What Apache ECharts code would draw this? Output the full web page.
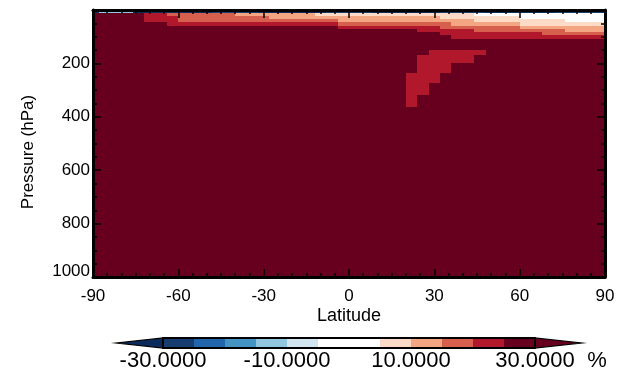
<!DOCTYPE html>
<html><head><meta charset="utf-8">
<script src="https://cdn.jsdelivr.net/npm/echarts@6/dist/echarts.min.js"></script>
<style>html,body{margin:0;padding:0;background:#fff}#c{width:631px;height:379px}</style>
</head><body><div id="c"></div>
<script>
// ---- data ----
const latCenters = [-90,-86,-82,-78,-74,-70,-66,-62,-58,-54,-50,-46,-42,-38,-34,-30,-26,-22,-18,-14,-10,-6,-2,2,6,10,14,18,22,26,30,34,38,42,46,50,54,58,62,66,70,74,78,82,86,90];
const pressureEdges = [0,12,21,33,46,59,70,83,95,108,128,150,169,199,236,273,318,363,420,480,550,620,700,780,860,930,1000];
const latTicks = [-90,-60,-30,0,30,60,90];
const pressureTicks = [200,400,600,800,1000];
const colorLevels = [-30,-25,-20,-15,-10,-5,5,10,15,20,25,30];
const colorbarLabels = [-30,-10,10,30];
// values[row][col], row = pressure layer (top to bottom), col = latitude
const values = [
[-35,-12,-12,-12,-35,-35,-35,-35,-35,-35, -35,-27,-27,-27,-27,-35,-35,-35,-35,-35, -35,-27,-27,-27,-27,-35,-35,-35,-35,-35, -35,-27,-27,-27,-27,-35,-35,-35,-35,-35, -35,-27,-27,-27,-27,-27],
[35,35,35,35,35,22,22,17,17,17, 17,17,17,12,12,12,12,12,12,12, 7,7,7,7,7,7,7,7,7,7, 7,7,7,7,0,0,0,0,0,0, 0,0,0,0,0,0],
[35,35,35,35,35,22,22,22,17,17, 17,17,17,17,17,17,12,12,12,12, 12,12,12,12,12,12,12,12,12,12, 12,7,7,7,7,7,7,7,0,0, 0,0,0,0,0,0],
[35,35,35,35,35,22,22,22,17,17, 17,17,17,17,17,17,17,17,17,17, 17,17,12,12,12,12,12,12,12,12, 12,12,12,12,7,7,7,7,7,7, 7,7,0,0,0,0],
[35,35,35,35,35,35,35,22,22,22, 22,22,22,22,22,22,22,22,22,22, 22,22,17,17,17,17,17,17,17,17, 17,17,12,12,12,12,12,12,7,7, 7,7,7,7,7,7],
[35,35,35,35,35,35,35,35,35,35, 35,35,35,35,35,35,35,35,35,35, 35,35,22,22,22,22,22,22,22,22, 22,17,17,17,17,17,17,17,12,12, 12,12,12,12,12,12],
[35,35,35,35,35,35,35,35,35,35, 35,35,35,35,35,35,35,35,35,35, 35,35,35,35,35,35,35,35,35,22, 22,22,22,22,17,17,17,17,17,17, 17,17,12,12,12,12],
[35,35,35,35,35,35,35,35,35,35, 35,35,35,35,35,35,35,35,35,35, 35,35,35,35,35,35,35,35,35,35, 35,22,22,22,22,22,22,22,22,22, 17,17,17,17,17,17],
[35,35,35,35,35,35,35,35,35,35, 35,35,35,35,35,35,35,35,35,35, 35,35,35,35,35,35,35,35,35,35, 35,35,22,22,22,22,22,22,22,22, 22,22,22,22,22,22],
[35,35,35,35,35,35,35,35,35,35, 35,35,35,35,35,35,35,35,35,35, 35,35,35,35,35,35,35,35,35,35, 35,35,35,35,35,35,35,35,35,35, 35,35,35,35,35,35],
[35,35,35,35,35,35,35,35,35,35, 35,35,35,35,35,35,35,35,35,35, 35,35,35,35,35,35,35,35,35,35, 35,35,35,35,35,35,35,35,35,35, 35,35,35,35,35,35],
[35,35,35,35,35,35,35,35,35,35, 35,35,35,35,35,35,35,35,35,35, 35,35,35,35,35,35,35,35,35,35, 22,22,22,22,22,35,35,35,35,35, 35,35,35,35,35,35],
[35,35,35,35,35,35,35,35,35,35, 35,35,35,35,35,35,35,35,35,35, 35,35,35,35,35,35,35,35,35,22, 22,22,22,22,35,35,35,35,35,35, 35,35,35,35,35,35],
[35,35,35,35,35,35,35,35,35,35, 35,35,35,35,35,35,35,35,35,35, 35,35,35,35,35,35,35,35,35,22, 22,22,35,35,35,35,35,35,35,35, 35,35,35,35,35,35],
[35,35,35,35,35,35,35,35,35,35, 35,35,35,35,35,35,35,35,35,35, 35,35,35,35,35,35,35,35,22,22, 22,35,35,35,35,35,35,35,35,35, 35,35,35,35,35,35],
[35,35,35,35,35,35,35,35,35,35, 35,35,35,35,35,35,35,35,35,35, 35,35,35,35,35,35,35,35,22,22, 35,35,35,35,35,35,35,35,35,35, 35,35,35,35,35,35],
[35,35,35,35,35,35,35,35,35,35, 35,35,35,35,35,35,35,35,35,35, 35,35,35,35,35,35,35,35,22,35, 35,35,35,35,35,35,35,35,35,35, 35,35,35,35,35,35],
[35,35,35,35,35,35,35,35,35,35, 35,35,35,35,35,35,35,35,35,35, 35,35,35,35,35,35,35,35,35,35, 35,35,35,35,35,35,35,35,35,35, 35,35,35,35,35,35],
[35,35,35,35,35,35,35,35,35,35, 35,35,35,35,35,35,35,35,35,35, 35,35,35,35,35,35,35,35,35,35, 35,35,35,35,35,35,35,35,35,35, 35,35,35,35,35,35],
[35,35,35,35,35,35,35,35,35,35, 35,35,35,35,35,35,35,35,35,35, 35,35,35,35,35,35,35,35,35,35, 35,35,35,35,35,35,35,35,35,35, 35,35,35,35,35,35],
[35,35,35,35,35,35,35,35,35,35, 35,35,35,35,35,35,35,35,35,35, 35,35,35,35,35,35,35,35,35,35, 35,35,35,35,35,35,35,35,35,35, 35,35,35,35,35,35],
[35,35,35,35,35,35,35,35,35,35, 35,35,35,35,35,35,35,35,35,35, 35,35,35,35,35,35,35,35,35,35, 35,35,35,35,35,35,35,35,35,35, 35,35,35,35,35,35],
[35,35,35,35,35,35,35,35,35,35, 35,35,35,35,35,35,35,35,35,35, 35,35,35,35,35,35,35,35,35,35, 35,35,35,35,35,35,35,35,35,35, 35,35,35,35,35,35],
[35,35,35,35,35,35,35,35,35,35, 35,35,35,35,35,35,35,35,35,35, 35,35,35,35,35,35,35,35,35,35, 35,35,35,35,35,35,35,35,35,35, 35,35,35,35,35,35],
[35,35,35,35,35,35,35,35,35,35, 35,35,35,35,35,35,35,35,35,35, 35,35,35,35,35,35,35,35,35,35, 35,35,35,35,35,35,35,35,35,35, 35,35,35,35,35,35],
[35,35,35,35,35,35,35,35,35,35, 35,35,35,35,35,35,35,35,35,35, 35,35,35,35,35,35,35,35,35,35, 35,35,35,35,35,35,35,35,35,35, 35,35,35,35,35,35]
];

// ---- styles ----
const levelColors = ['#0a2b5c','#163d6f','#2166ac','#4393c3','#92c5de','#d1e5f0','#ffffff','#fddbc7','#f4a582','#d6604d','#b2182b','#67001f','#67001f'];
const FONT = '"Liberation Sans", Arial, Helvetica, sans-serif';

function colorFor(v){
  let k = 0;
  for (const L of colorLevels) if (v >= L) k++;
  return levelColors[k];
}

// cell edges in latitude: midpoints between centers, clipped to the axis range
const latEdges = [];
latEdges.push(Math.max(-90, latCenters[0] - (latCenters[1]-latCenters[0])/2));
for (let i=0;i<latCenters.length-1;i++) latEdges.push((latCenters[i]+latCenters[i+1])/2);
latEdges.push(Math.min(90, latCenters[latCenters.length-1] + (latCenters[1]-latCenters[0])/2));

const heatData = [];
for (let j=0;j<values.length;j++){
  for (let i=0;i<latCenters.length;i++){
    heatData.push([latEdges[i], latEdges[i+1], pressureEdges[j], pressureEdges[j+1], values[j][i]]);
  }
}

const cbData = [];
for (let i=0;i<colorLevels.length-1;i++) cbData.push([colorLevels[i], colorLevels[i+1], 0, i+1]);
cbData.push([colorLevels[0], colorLevels[0], 1, 0]);
cbData.push([colorLevels[colorLevels.length-1], colorLevels[colorLevels.length-1], 2, levelColors.length-1]);
cbData.push([colorLevels[0], colorLevels[colorLevels.length-1], 3, 0]);
const ARROW = 7.5; // arrow length in colorbar units

function snapRect(p1, p2){
  const x0 = Math.round(Math.min(p1[0],p2[0])), x1 = Math.round(Math.max(p1[0],p2[0]));
  const y0 = Math.round(Math.min(p1[1],p2[1])), y1 = Math.round(Math.max(p1[1],p2[1]));
  return {x:x0, y:y0, width:x1-x0, height:y1-y0};
}

const axLine = {show:true, onZero:false, lineStyle:{color:'#000', width:3}};
const axTick = {show:true, inside:true, length:8, lineStyle:{color:'#000', width:1.5}};
const chart = echarts.init(document.getElementById('c'));
chart.setOption({
  animation:false,
  backgroundColor:'#fff',
  grid:[
    {left:93, top:10, width:512, height:267},
    {left:163, top:338, width:372, height:10}
  ],
  xAxis:[
    {gridIndex:0, type:'value', min:latTicks[0], max:latTicks[latTicks.length-1], interval:30, position:'bottom', z:5,
     axisLine:axLine, axisTick:axTick,
     minorTick:{show:true, splitNumber:6, length:4, lineStyle:{color:'#000', width:1.5}},
     splitLine:{show:false}, minorSplitLine:{show:false},
     axisLabel:{color:'#000', fontSize:17, fontFamily:FONT, margin:11}},
    {gridIndex:0, type:'value', min:latTicks[0], max:latTicks[latTicks.length-1], interval:30, position:'top', z:5,
     axisLine:axLine, axisTick:axTick,
     minorTick:{show:true, splitNumber:6, length:4, lineStyle:{color:'#000', width:1.5}},
     splitLine:{show:false}, axisLabel:{show:false}},
    {gridIndex:1, type:'value', min:colorLevels[0], max:colorLevels[colorLevels.length-1], interval:20,
     axisLine:{show:false}, axisTick:{show:false}, splitLine:{show:false},
     axisLabel:{color:'#000', fontSize:22, fontFamily:FONT, margin:2,
       formatter:v => colorbarLabels.indexOf(v) >= 0 ? v.toFixed(4) : ''}}
  ],
  yAxis:[
    {gridIndex:0, type:'value', inverse:true, min:0, max:pressureTicks[pressureTicks.length-1], interval:200, position:'left', z:5,
     axisLine:axLine, axisTick:axTick,
     minorTick:{show:true, splitNumber:4, length:4, lineStyle:{color:'#000', width:1.5}},
     splitLine:{show:false},
     axisLabel:{color:'#000', fontSize:17, fontFamily:FONT, margin:3, showMinLabel:false,
       formatter:v => v === 1000 ? '{up|1000}' : (pressureTicks.indexOf(v)>=0 ? String(v) : ''),
       rich:{up:{color:'#000', fontSize:17, fontFamily:FONT, padding:[0,0,12,0]}}}},
    {gridIndex:0, type:'value', inverse:true, min:0, max:1000, interval:200, position:'right', z:5,
     axisLine:axLine, axisTick:axTick,
     minorTick:{show:true, splitNumber:4, length:4, lineStyle:{color:'#000', width:1.5}},
     splitLine:{show:false}, axisLabel:{show:false}},
    {gridIndex:1, type:'value', min:0, max:1, show:false}
  ],
  series:[
    {type:'custom', xAxisIndex:0, yAxisIndex:0, z:1, clip:true, silent:true,
     encode:{x:[0,1], y:[2,3]},
     data:heatData,
     renderItem:function(params, api){
       const p1 = api.coord([api.value(0), api.value(2)]);
       const p2 = api.coord([api.value(1), api.value(3)]);
       return {type:'rect', shape:snapRect(p1, p2),
         style:{fill:colorFor(api.value(4))}};
     }},
    {type:'custom', xAxisIndex:2, yAxisIndex:2, z:2, clip:false, silent:true,
     encode:{x:[0,1]},
     data:cbData,
     renderItem:function(params, api){
       const kind = api.value(2);
       const a = api.value(0), b = api.value(1);
       const fill = levelColors[api.value(3)];
       if (kind === 0){
         return {type:'rect', shape:snapRect(api.coord([a, 1]), api.coord([b, 0])), style:{fill:fill}};
       }
       if (kind === 1 || kind === 2){
         const tip = kind === 1 ? a - ARROW : a + ARROW;
         const t = api.coord([a, 1]), bt = api.coord([a, 0]), tp = api.coord([tip, 0.5]);
         return {type:'polygon', shape:{points:[t, bt, tp]}, style:{fill:fill, stroke:'#000', lineWidth:1.2}};
       }
       return {type:'rect', shape:snapRect(api.coord([a, 1]), api.coord([b, 0])), style:{fill:'none', stroke:'#000', lineWidth:2}};
     }}
  ],
  graphic:[
    {type:'text', x:349, y:316, z:10, style:{text:'Latitude', fill:'#000', fontSize:18, fontFamily:FONT, align:'center', verticalAlign:'middle', textAlign:'center', textVerticalAlign:'middle'}},
    {type:'text', x:28, y:152, rotation:Math.PI/2, z:10, style:{text:'Pressure (hPa)', fill:'#000', fontSize:17, fontFamily:FONT, align:'center', verticalAlign:'middle', textAlign:'center', textVerticalAlign:'middle'}},
    {type:'text', x:597, y:361, z:10, style:{text:'%', fill:'#000', fontSize:22, fontFamily:FONT, align:'center', verticalAlign:'middle', textAlign:'center', textVerticalAlign:'middle'}}
  ]
});
</script>
</body></html>
